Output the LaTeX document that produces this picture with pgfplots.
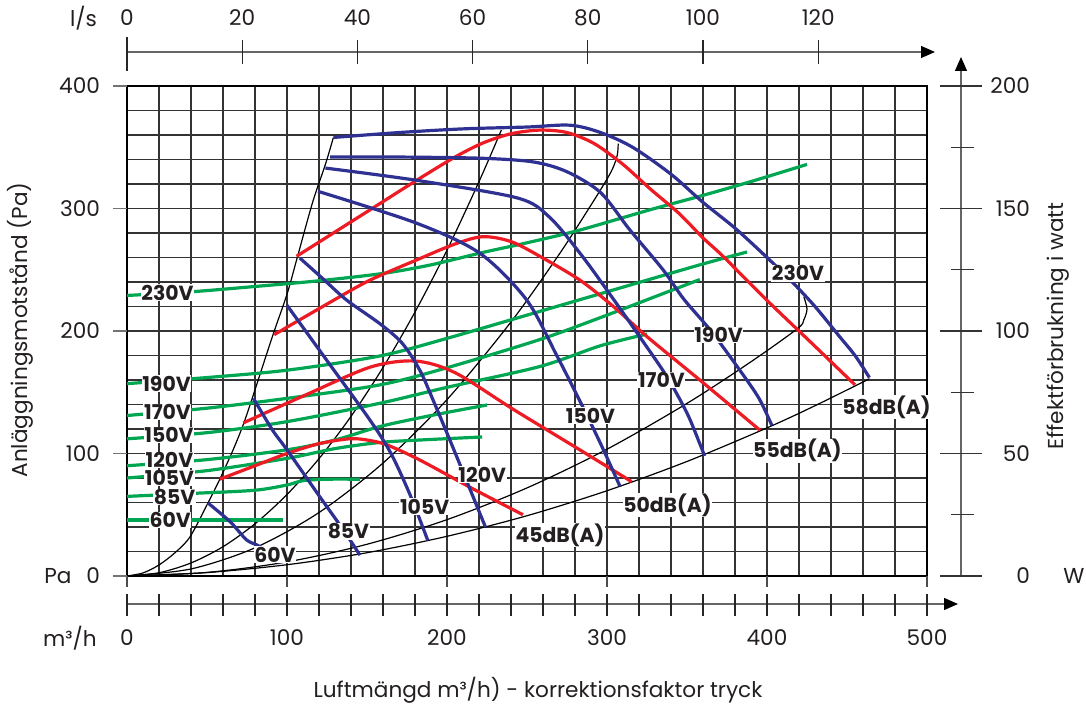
\documentclass[border=0pt]{standalone}
\usepackage{fontspec}
\setmainfont{Poppins}
\usepackage{pgfplots}
\pgfplotsset{compat=1.18}
\usetikzlibrary{arrows.meta}
\definecolor{cblue}{HTML}{2E3192}
\definecolor{cred}{HTML}{ED1C24}
\definecolor{cgreen}{HTML}{00A651}
\definecolor{ctext}{HTML}{231F20}
\tikzset{lab/.style={font=\fontsize{10.2}{12}\selectfont\bfseries, text=ctext, fill=white, inner sep=0.3pt}}
\begin{document}
\begin{tikzpicture}[font=\fontsize{10.8}{13}\selectfont, text=ctext]
\path[use as bounding box] (-63.5pt,-64.5pt) rectangle (479.5pt,288pt);
\begin{axis}[at={(0pt,0pt)}, anchor=south west, scale only axis, width=400pt, height=245pt,
  xmin=0, xmax=500, ymin=0, ymax=400,
  xtick={0,20,...,500}, ytick={0,20,...,400}, xticklabels={}, yticklabels={},
  major tick length=0pt, grid=major, grid style={black!80, line width=0.55pt},
  axis line style={black, line width=1pt}, clip=false,
  every axis plot/.append style={smooth}]
% black system curves
\addplot[black, line width=0.6pt] coordinates {(0,0)(10,2.5)(20,9)(30,19)(39.4,32)(50.6,59.6)(58,79)(66,102)(72.5,123)(79,148)(91,196)(100,230)(106,258)(116,305)(124,336)(129,358)};
\addplot[black, line width=0.6pt] coordinates {(0,0)(20,2.66)(40,10.64)(60,23.9)(80,42.6)(100,66.5)(120,95.8)(140,130.3)(160,170.2)(180,215.5)(200,266)(220,321.9)(234,364.1)};
\addplot[black, line width=0.6pt] coordinates {(0,0)(40,5.76)(80,23)(120,51.8)(160,92.2)(200,144)(240,207.4)(270,262.4)(290,302.8)(300,324)(304,334)(306.5,344)(307,353)};
\addplot[black, line width=0.6pt] coordinates {(0,0)(50,2.9)(100,11.5)(150,25.9)(200,46)(250,71.9)(300,103.5)(350,140.9)(390,174.9)(419,201.9)(423,209)(425,218)(423,228)};
\addplot[black, line width=0.6pt] coordinates {(0,0)(50,2.8)(100,9.2)(150,19)(200,32.4)(250,49.2)(300,69.6)(350,93.5)(400,120.9)(430,139)(464,161)};
% green power curves
\addplot[cgreen, line width=1.6pt] coordinates {(0,229)(40,232)(77,236)(120,241)(160,247)(190,254)(222,264)(250,272)(283,282.4)(327,299)(358,310)(390,322)(425,336)};
\addplot[cgreen, line width=1.6pt] coordinates {(0,157)(50,162)(100,168)(158,179.6)(200,194)(258,216)(300,232)(358,254)(387.5,264.5)};
\addplot[cgreen, line width=1.6pt] coordinates {(0,131)(50,137)(100,145)(158,156)(200,170)(258,193)(296,211)(330,228)(358,242)};
\addplot[cgreen, line width=1.6pt] coordinates {(0,112)(50,117)(100,126)(158,141)(200,154)(258,171)(296,188)(325,197.5)};
\addplot[cgreen, line width=1.6pt] coordinates {(0,90)(50,95)(100,103)(130,111)(158,122)(190,131)(225,139.6)};
\addplot[cgreen, line width=1.6pt] coordinates {(0,80)(50,86)(100,96)(130,104)(158,109)(183,111)(222,113.5)};
\addplot[cgreen, line width=1.6pt] coordinates {(0,65)(44,67.6)(80,70)(100,74.3)(110,77.8)(125,79)(145.6,79)};
\addplot[cgreen, line width=1.6pt] coordinates {(0,45.7)(50,45.7)(97.5,45.7)};
% red sound curves
\addplot[cred, line width=1.6pt] coordinates {(58,79)(80,90)(100,100)(120,108)(139,112)(150,111)(162.5,107)(183,94.7)(215,72)(247.5,50)};
\addplot[cred, line width=1.6pt] coordinates {(72.7,125)(112,148)(152,170.5)(180,175.5)(205,166)(241.5,136)(283,103)(315.4,77)};
\addplot[cred, line width=1.6pt] coordinates {(92,197)(129,225)(152,241.6)(181,258)(205,271)(222.5,277)(240,273)(258,261)(283,241.6)(304,220)(325,195.4)(358,160)(395.6,119)};
\addplot[cred, line width=1.6pt] coordinates {(106,261)(152,299)(181,323)(205,342)(222.5,353.5)(240,361)(258,364)(275,362)(292,353)(310,336)(327,316)(345,296)(360,276)(372.5,261)(400,225)(428,190)(455,156)};
% blue fan curves
\addplot[cblue, line width=1.6pt] coordinates {(129,358)(170,362)(210,365)(250,366.5)(277,368)(296,362)(316,350)(340,328)(360,305)(380,284)(400,260)(415,241)(430,220)(445,196)(455,180)(464,162)};
\addplot[cblue, line width=1.6pt] coordinates {(127,342)(170,342)(222,341)(254,338)(275,330)(296,313)(314,283)(335,250)(348,226)(365,200)(383,168)(395,145)(403,123)};
\addplot[cblue, line width=1.6pt] coordinates {(124,333)(181,323)(244,308.6)(264,293)(284,262)(304,226)(320.6,195)(337.3,163)(350,133)(358,108)(361,98)};
\addplot[cblue, line width=1.6pt] coordinates {(119.4,314)(181,288)(220.6,263.4)(249.8,225.3)(268.6,180)(283,143)(296,108)(308,73.5)};
\addplot[cblue, line width=1.6pt] coordinates {(108,259.6)(123,242)(137.5,225)(158,206)(172,190)(183,168)(191.5,143)(204,104)(224,40)};
\addplot[cblue, line width=1.6pt] coordinates {(100,221)(126,174)(152,127)(165,100)(177,66)(188,29)};
\addplot[cblue, line width=1.6pt] coordinates {(79,145)(91,119)(100,103)(120.6,64.5)(135,38)(145.6,17)};
\addplot[cblue, line width=1.6pt] coordinates {(50.6,59.6)(64.4,44.4)(74.8,29.4)(83,24)(95.6,10.4)};
% labels
\node[lab] at (axis cs:25.3,231.4) {230V};
\node[lab] at (axis cs:24.7,157) {190V};
\node[lab] at (axis cs:25.3,134) {170V};
\node[lab] at (axis cs:26.2,115) {150V};
\node[lab] at (axis cs:26.5,94.7) {120V};
\node[lab] at (axis cs:26.5,80.2) {105V};
\node[lab] at (axis cs:29.7,64.4) {85V};
\node[lab] at (axis cs:27,45.7) {60V};
\node[lab] at (axis cs:92.5,17.5) {60V};
\node[lab] at (axis cs:138.4,36.3) {85V};
\node[lab] at (axis cs:186,56.7) {105V};
\node[lab] at (axis cs:222,82.9) {120V};
\node[lab] at (axis cs:289.7,131) {150V};
\node[lab] at (axis cs:334,160) {170V};
\node[lab] at (axis cs:369.7,196.7) {190V};
\node[lab] at (axis cs:419.4,247) {230V};
\node[lab] at (axis cs:270.6,33.5) {45dB(A)};
\node[lab] at (axis cs:337.8,58) {50dB(A)};
\node[lab] at (axis cs:419,102.4) {55dB(A)};
\node[lab] at (axis cs:474.7,137.6) {58dB(A)};
\end{axis}
% top axis (l/s)
\draw[black!60, line width=0.6pt, -{Triangle[length=7pt,width=6pt,color=black]}] (0,262pt) -- (404pt,262pt);
\draw[black!85, line width=0.6pt] (0,252.5pt) -- (0,269.5pt);
\foreach \k in {20,40,...,120} \draw[black!85, line width=0.6pt] ({2.88*\k pt},256pt) -- ({2.88*\k pt},268pt);
\foreach \k in {0,20,...,120} \node at ({2.88*\k pt},279pt) {\k};
\node at (-21.75pt,279pt) {l/s};
% bottom axis (m3/h)
\draw[black!60, line width=0.6pt, -{Triangle[length=7pt,width=6pt,color=black]}] (0,-14pt) -- (415.5pt,-14pt);
\foreach \x in {0,20,...,500} \draw[black!85, line width=0.6pt] ({0.8*\x pt},-9pt) -- ({0.8*\x pt},-20pt);
\foreach \x in {0,100,...,500} \node at ({0.8*\x pt},-31pt) {\x};
\node at (-28.5pt,-31pt) {m³/h};
\foreach \x in {0,100,...,500} \draw[black!70, line width=0.6pt] ({0.8*\x pt},0pt) -- ({0.8*\x pt},-5.5pt);
% left ticks and labels
\foreach \y in {0,100,...,400} {
  \draw[black!55, line width=0.6pt] (-7pt,{0.6125*\y pt}) -- (0pt,{0.6125*\y pt});
  \node[anchor=east] at (-10pt,{0.6125*\y pt}) {\y};
}
\node at (-34.5pt,0pt) {Pa};
% right axis (W)
\draw[black!60, line width=0.6pt, -{Triangle[length=7pt,width=6pt,color=black]}] (417pt,0pt) -- (417pt,259.5pt);
\foreach \w in {0,50,...,200} {
  \draw[black!80, line width=0.6pt] (406.5pt,{1.225*\w pt}) -- (427.5pt,{1.225*\w pt});
  \node[anchor=east] at (455pt,{1.225*\w pt}) {\w};
}
\foreach \w in {25,75,125,175} \draw[black!80, line width=0.6pt] (412pt,{1.225*\w pt}) -- (423.5pt,{1.225*\w pt});
\node at (473.5pt,0pt) {W};
\node[rotate=90] at (465.5pt,125pt) {Effektförbrukning i watt};
\node[rotate=90] at (-53.5pt,123pt) {Anläggningsmotstånd (Pa)};
\node at (205.5pt,-57pt) {Luftmängd m³/h) - korrektionsfaktor tryck};
\end{tikzpicture}
\end{document}
